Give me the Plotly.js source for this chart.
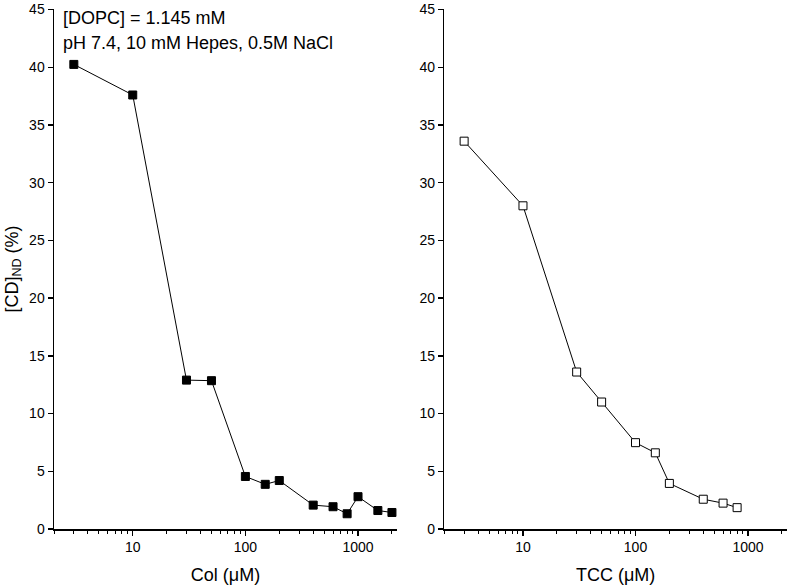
<!DOCTYPE html>
<html>
<head>
<meta charset="utf-8">
<script src="https://cdn.plot.ly/plotly-3.0.1.min.js"></script>
<style>html,body{margin:0;padding:0;background:#fff;}#chart{width:787px;height:587px;}</style>
</head>
<body>
<div id="chart"></div>
<script>
const colX = [3, 10, 30, 50, 100, 150, 200, 400, 600, 800, 1000, 1500, 2000];
const colY = [40.25, 37.6, 12.9, 12.85, 4.55, 3.87, 4.2, 2.07, 1.93, 1.32, 2.8, 1.6, 1.43];
const tccX = [3, 10, 30, 50, 100, 150, 200, 400, 600, 800];
const tccY = [33.6, 28.0, 13.6, 11.0, 7.48, 6.6, 3.95, 2.58, 2.24, 1.85];
const xTickVals = [10, 100, 1000];
const xTickText = ['10', '100', '1000'];
const yTickVals = [0, 5, 10, 15, 20, 25, 30, 35, 40, 45];
const annoLines = ['[DOPC] = 1.145 mM', 'pH 7.4, 10 mM Hepes, 0.5M NaCl'];

const FONT = 'Liberation Sans, Arial, sans-serif';

const traces = [
  {x: colX, y: colY, xaxis: 'x', yaxis: 'y', mode: 'lines+markers', type: 'scatter',
   line: {color: '#000', width: 1},
   marker: {symbol: 'square', size: 8, color: '#000', line: {color: '#000', width: 1}}},
  {x: tccX, y: tccY, xaxis: 'x2', yaxis: 'y2', mode: 'lines+markers', type: 'scatter',
   line: {color: '#000', width: 1},
   marker: {symbol: 'square', size: 8, color: '#fff', line: {color: '#000', width: 1}}}
];

function xax(domain, title, anchor) {
  return {
    type: 'log', domain: domain, anchor: anchor,
    range: [Math.log10(2), Math.log10(2220)],
    showgrid: false, zeroline: false,
    showline: true, linecolor: '#000', linewidth: 1.5,
    ticks: 'outside', ticklen: 5, tickwidth: 1.5, tickcolor: '#000',
    tickvals: xTickVals, ticktext: xTickText,
    ticklabeloverflow: 'allow',
    minor: {ticks: 'outside', ticklen: 3, tickwidth: 1, tickcolor: '#000',
            tickvals: [2,3,4,5,6,7,8,9,20,30,40,50,60,70,80,90,200,300,400,500,600,700,800,900,2000]},
    tickfont: {family: FONT, size: 14, color: '#000'},
    title: {text: title, font: {family: FONT, size: 18, color: '#000'}, standoff: 14}
  };
}
function yax(anchor, title) {
  const a = {
    domain: [0, 1], anchor: anchor, range: [0, 45.05],
    showgrid: false, zeroline: false,
    showline: true, linecolor: '#000', linewidth: 1.5,
    ticks: 'outside', ticklen: 5, tickwidth: 1.5, tickcolor: '#000',
    tickvals: yTickVals,
    ticklabeloverflow: 'allow',
    tickfont: {family: FONT, size: 14, color: '#000'}
  };
  if (title) a.title = {text: title, font: {family: FONT, size: 18, color: '#000'}, standoff: 6};
  return a;
}

const T = 9, B = 58, H = 587 - T - B;
const layout = {
  width: 787, height: 587,
  margin: {l: 54, r: 0, t: T, b: B},
  paper_bgcolor: '#fff', plot_bgcolor: '#fff',
  showlegend: false,
  xaxis: xax([0, 0.468], 'Col (μM)', 'y'),
  xaxis2: xax([0.5325, 1], 'TCC (μM)', 'y2'),
  yaxis: yax('x', '[CD]<sub>ND</sub> (%)'),
  yaxis2: yax('x2', null),
  annotations: annoLines.map((t, i) => ({
    text: t, xref: 'paper', yref: 'paper', x: 0.009, y: 1 - (17.5 + 25 * i - T) / H,
    xanchor: 'left', yanchor: 'middle', showarrow: false,
    font: {family: FONT, size: 18, color: '#000'}
  }))
};

Plotly.newPlot('chart', traces, layout, {displayModeBar: false, staticPlot: true});
</script>
</body>
</html>
